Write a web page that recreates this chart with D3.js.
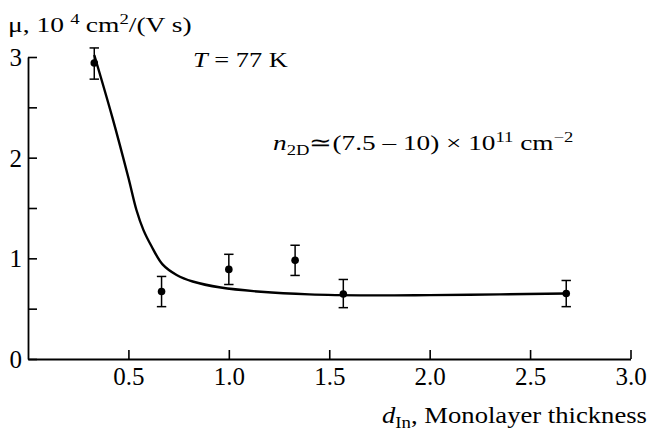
<!DOCTYPE html>
<html>
<head>
<meta charset="utf-8">
<script src="https://cdn.jsdelivr.net/npm/d3@7"></script>
<style>
  body { margin: 0; background: #fff; }
  svg text { font-family: "Liberation Serif", "Times New Roman", serif; fill: #000; }
</style>
</head>
<body>
<div id="chart"></div>
<script>
const width = 648;
const height = 437;

// measured points (d_In, mu in 10^4 cm^2/Vs) with error bars
const dIn = [0.33, 0.665, 1.0, 1.33, 1.57, 2.68];
const mu = [2.94, 0.67, 0.89, 0.98, 0.645, 0.65];
const muHi = [3.09, 0.82, 1.04, 1.13, 0.79, 0.78];
const muLo = [2.78, 0.52, 0.74, 0.83, 0.51, 0.52];

// guide curve
const fitX = [0.33, 0.42, 0.50, 0.54, 0.575, 0.615, 0.67, 0.74, 0.82, 0.96, 1.16, 1.40, 1.70, 2.00, 2.35, 2.68];
const fitY = [3.02, 2.40, 1.80, 1.48, 1.28, 1.12, 0.94, 0.835, 0.77, 0.71, 0.668, 0.642, 0.632, 0.635, 0.642, 0.65];

const xTicks = [0.5, 1.0, 1.5, 2.0, 2.5, 3.0];
const yTicks = [0, 0.5, 1, 1.5, 2, 2.5, 3];
const yLabels = [0, 1, 2, 3];

const x = d3.scaleLinear().domain([0, 3]).range([28, 630.5]);
const y = d3.scaleLinear().domain([0, 3]).range([359, 57]);

const svg = d3.select('#chart')
    .append('svg')
    .attr('width', width)
    .attr('height', height);

// x axis, ticks pointing inward
const xAxis = svg.append('g')
    .attr('transform', `translate(0,${y(0)})`)
    .call(d3.axisBottom(x).tickValues(xTicks).tickSizeInner(-9).tickSizeOuter(0)
        .tickFormat(d3.format('.1f')));
xAxis.select('.domain').attr('stroke-width', 1.8);
xAxis.selectAll('.tick line').attr('stroke-width', 1.6);
xAxis.selectAll('.tick text')
    .attr('y', 26)
    .attr('dy', 0)
    .attr('font-size', 25);

// y axis, ticks pointing inward
const yAxis = svg.append('g')
    .attr('transform', `translate(${x(0)},0)`)
    .call(d3.axisLeft(y).tickValues(yTicks).tickSizeInner(-9).tickSizeOuter(0)
        .tickFormat(d => yLabels.includes(d) ? d : ''));
yAxis.select('.domain').attr('stroke-width', 1.8);
yAxis.selectAll('.tick line').attr('stroke-width', 1.6);
yAxis.selectAll('.tick text')
    .attr('x', -6)
    .attr('dy', '0.34em')
    .attr('font-size', 25);

// guide curve
const fit = fitX.map((d, i) => [d, fitY[i]]);
svg.append('path')
    .datum(fit)
    .attr('fill', 'none')
    .attr('stroke', '#000')
    .attr('stroke-width', 2.4)
    .attr('d', d3.line().x(d => x(d[0])).y(d => y(d[1])).curve(d3.curveCatmullRom.alpha(0.5)));

// error bars
const pts = dIn.map((d, i) => ({ x: d, y: mu[i], hi: muHi[i], lo: muLo[i] }));
const err = svg.append('g').attr('stroke', '#000').attr('stroke-width', 1.5);
err.selectAll('line.v').data(pts).enter().append('line')
    .attr('x1', d => x(d.x)).attr('x2', d => x(d.x))
    .attr('y1', d => y(d.hi)).attr('y2', d => y(d.lo));
err.selectAll('line.t').data(pts).enter().append('line')
    .attr('x1', d => x(d.x) - 4.7).attr('x2', d => x(d.x) + 4.7)
    .attr('y1', d => y(d.hi)).attr('y2', d => y(d.hi));
err.selectAll('line.b').data(pts).enter().append('line')
    .attr('x1', d => x(d.x) - 4.7).attr('x2', d => x(d.x) + 4.7)
    .attr('y1', d => y(d.lo)).attr('y2', d => y(d.lo));

svg.append('g').selectAll('circle').data(pts).enter().append('circle')
    .attr('cx', d => x(d.x))
    .attr('cy', d => y(d.y))
    .attr('r', 3.8)
    .attr('fill', '#000');

// text in the reference is a bit wider than the font, so stretch it sideways
function label(px, py, sx, size) {
    return svg.append('g')
        .attr('transform', `translate(${px},${py}) scale(${sx},1)`)
        .append('text')
        .attr('font-size', size);
}

const yt = label(8, 32, 1.25, 22);
yt.append('tspan').text('μ, 10');
yt.append('tspan').attr('dx', 5).attr('dy', -8).attr('font-size', 15).text('4');
yt.append('tspan').attr('dx', 5).attr('dy', 8).text('cm');
yt.append('tspan').attr('dy', -8).attr('font-size', 15).text('2');
yt.append('tspan').attr('dy', 8).text('/(V s)');

const tt = label(193, 67, 1.2, 22);
tt.append('tspan').attr('font-style', 'italic').text('T');
tt.append('tspan').text(' = 77 K');

const nt = label(273, 150, 1.24, 22);
nt.append('tspan').attr('font-style', 'italic').text('n');
nt.append('tspan').attr('dy', 5).attr('font-size', 15).text('2D');
nt.append('tspan').attr('dy', -5).text('\u2243(7.5 \u2013 10) \u00d7 10');
nt.append('tspan').attr('dy', -8).attr('font-size', 15).text('11');
nt.append('tspan').attr('dy', 8).text(' cm');
nt.append('tspan').attr('dy', -8).attr('font-size', 15).text('\u22122');

const xt = label(382, 423, 1.11, 24);
xt.append('tspan').attr('font-style', 'italic').text('d');
xt.append('tspan').attr('dy', 5).attr('font-size', 17).text('In');
xt.append('tspan').attr('dy', -5).text(', Monolayer thickness');
</script>
</body>
</html>
